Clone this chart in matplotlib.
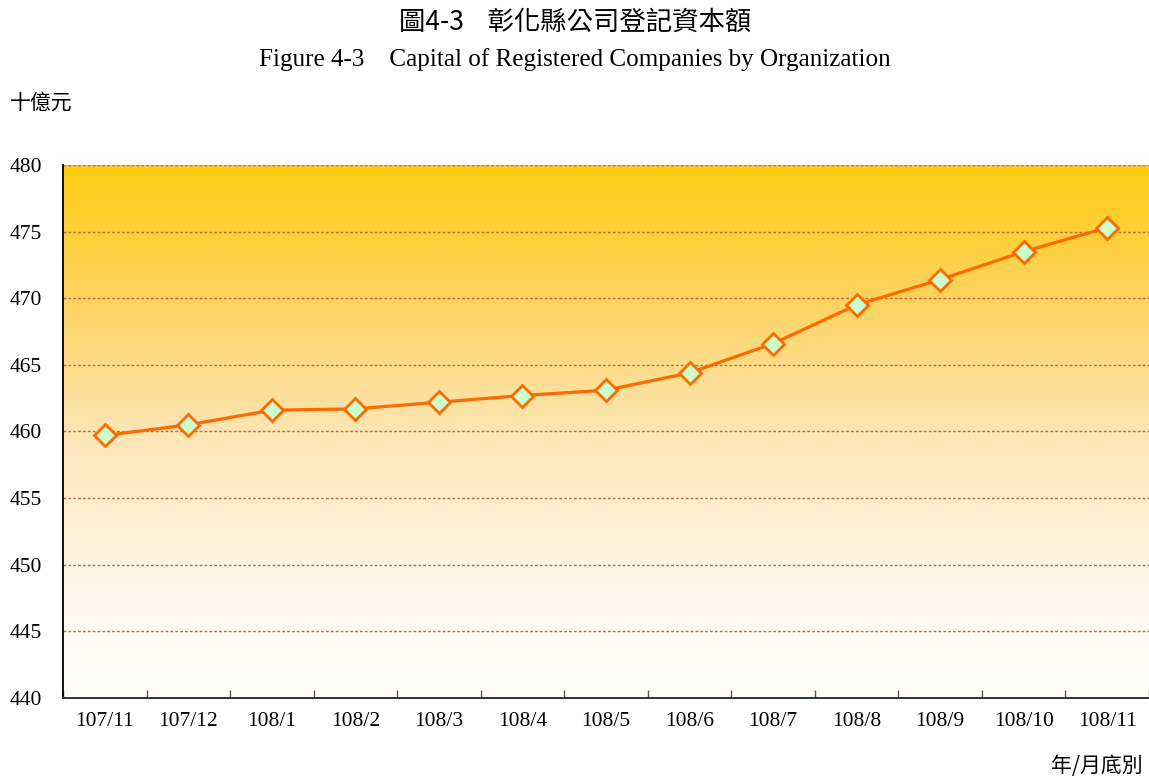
import numpy as np
import matplotlib
matplotlib.use("Agg")
import matplotlib.pyplot as plt
from matplotlib.colors import LinearSegmentedColormap

categories = ["107/11", "107/12", "108/1", "108/2", "108/3", "108/4", "108/5",
              "108/6", "108/7", "108/8", "108/9", "108/10", "108/11"]
values = [459.7, 460.5, 461.6, 461.7, 462.2, 462.7, 463.1,
          464.4, 466.6, 469.5, 471.4, 473.5, 475.3]
yticks = [440, 445, 450, 455, 460, 465, 470, 475, 480]

title_zh = "圖4-3    彰化縣公司登記資本額"
title_en = "Figure 4-3    Capital of Registered Companies by Organization"
ylabel = "十億元"
xlabel = "年/月底別"

serif = ["Liberation Serif", "DejaVu Serif"]
cjk = ["Noto Sans CJK TC", "DejaVu Sans"]

fig = plt.figure(figsize=(11.49, 7.8), dpi=100)
ax = fig.add_axes([63 / 1149, 1 - 698 / 780, (1149 - 63) / 1149, (698 - 165) / 780])

n = len(categories)
x = np.arange(n)
ax.set_xlim(-0.5, n - 0.5)
ax.set_ylim(yticks[0], yticks[-1])

# gradient background
cmap = LinearSegmentedColormap.from_list(
    "g", [(0.0, "#FFFDFA"), (0.25, "#FFF5E4"), (0.5, "#FEE5B3"),
          (0.75, "#FDD35E"), (1.0, "#FFCB12")])
grad = np.linspace(0, 1, 512).reshape(-1, 1)
ax.imshow(grad, aspect="auto", cmap=cmap, origin="lower",
          extent=(-0.5, n - 0.5, yticks[0], yticks[-1]), zorder=0,
          interpolation="bilinear")

for yv in yticks[1:]:
    ax.axhline(yv, color="#B8703A", lw=1.0, ls=(0, (2, 1.5)), zorder=1)

ax.plot(x, values, color="#FF6A00", lw=2.3, marker="D", markersize=11.5,
        markerfacecolor="#CCFFCC", markeredgecolor="#FF6A00", markeredgewidth=2, zorder=3)

ax.set_yticks(yticks)
ax.set_yticklabels([str(v) for v in yticks], fontfamily=serif, fontsize=15.5)
ax.set_xticks(x)
ax.set_xticklabels(categories, fontfamily=serif, fontsize=15.5)
ax.set_xticks(np.arange(n + 1) - 0.5, minor=True)
ax.tick_params(axis="x", which="major", length=0, pad=10)
ax.tick_params(axis="x", which="minor", direction="in", length=6, color="#555555", width=1)
ax.tick_params(axis="y", length=0, pad=15)

ax.spines["top"].set_visible(False)
ax.spines["right"].set_visible(False)
ax.spines["left"].set_color("black")
ax.spines["left"].set_linewidth(1.3)
ax.spines["bottom"].set_color("#222222")
ax.spines["bottom"].set_linewidth(1.3)

fig.text(575 / 1149, 1 - 22 / 780, title_zh, ha="center", va="center",
         fontfamily=cjk, fontsize=19, fontweight="light")
fig.text(575 / 1149, 1 - 60 / 780, title_en, ha="center", va="center",
         fontfamily=serif, fontsize=18.1)
fig.text(10 / 1149, 1 - 103 / 780, ylabel, ha="left", va="center",
         fontfamily=cjk, fontsize=15, fontweight="light")
fig.text(1143 / 1149, 1 - 766 / 780, xlabel, ha="right", va="center",
         fontfamily=cjk, fontsize=15, fontweight="light")

fig.savefig("out.png", dpi=100)
